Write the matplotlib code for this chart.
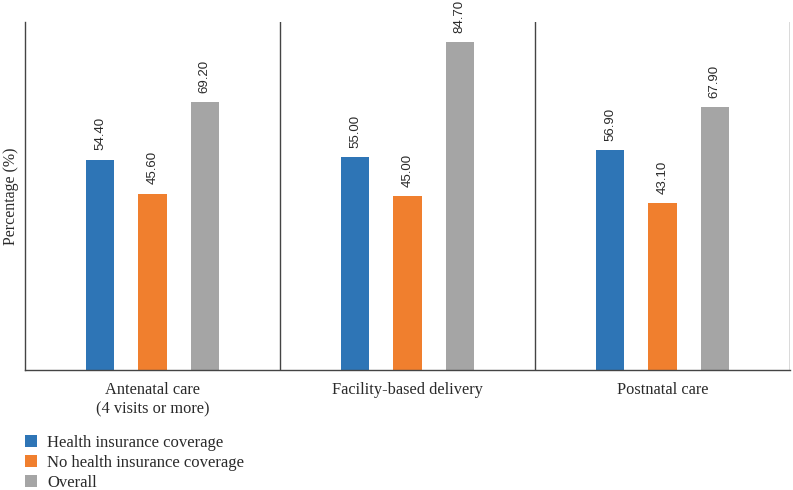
import matplotlib
matplotlib.use("Agg")
import matplotlib.pyplot as plt
import numpy as np
from matplotlib.patches import Patch

categories = ["Antenatal care\n(4 visits or more)", "Facility-based delivery", "Postnatal care"]
series_names = ["Health insurance coverage", "No health insurance coverage", "Overall"]
insured = [54.40, 55.00, 56.90]
uninsured = [45.60, 45.00, 43.10]
overall = [69.20, 84.70, 67.90]
colors = ["#2E75B6", "#F07F2E", "#A5A5A5"]

serif = ["Liberation Serif", "DejaVu Serif"]
sans = ["Liberation Sans", "DejaVu Sans"]
txt = "#2a2a2a"

fig = plt.figure(figsize=(7.93, 4.90), dpi=100)
ax = fig.add_axes([25/793, 1-370/490, (790-25)/793, (370-22)/490])

x = np.arange(len(categories))
width = 0.11
offset = 0.205
for i, vals in enumerate([insured, uninsured, overall]):
    pos = x + (i - 1) * offset
    bars = ax.bar(pos, vals, width=width, color=colors[i], label=series_names[i])
    for b, v in zip(bars, vals):
        ax.text(b.get_x() + b.get_width()/2, v + 2.4, f"{v:.2f}", rotation=90,
                ha="center", va="bottom", fontsize=9.5, family=sans, color=txt)

ax.set_xlim(-0.5, len(categories) - 0.5)
ax.set_ylim(0, 90)
for s in ["top", "right"]:
    ax.spines[s].set_visible(False)
for s in ["left", "bottom"]:
    ax.spines[s].set_color("#444444")
    ax.spines[s].set_linewidth(1.0)
for sep in np.arange(0.5, len(categories), 1.0):
    ax.axvline(sep, color="#444444", lw=1.0)
ax.set_yticks([])
ax.set_xticks(x)
ax.set_xticklabels(categories, family=serif, fontsize=11.8, color=txt)
ax.tick_params(axis="x", length=0, pad=9)
ax.set_ylabel("Percentage (%)", family=serif, fontsize=11.5, color=txt, labelpad=4)

handles = [Patch(facecolor=c, edgecolor="none") for c in colors]
leg = fig.legend(handles, series_names, loc="upper left", bbox_to_anchor=(0.031, 0.113),
                 frameon=False, prop={"family": serif, "size": 12},
                 handlelength=0.75, handleheight=0.75, handletextpad=0.6,
                 labelspacing=0.25, borderpad=0, borderaxespad=0)
for t in leg.get_texts():
    t.set_color(txt)

fig.savefig("out.png", dpi=100)
